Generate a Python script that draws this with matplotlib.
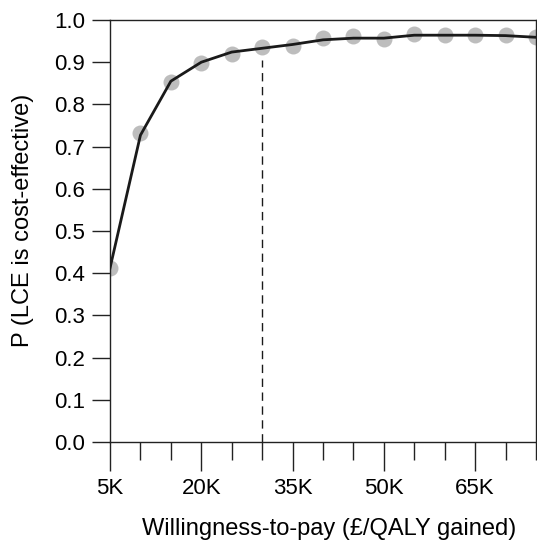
import matplotlib
matplotlib.use("Agg")
import matplotlib.pyplot as plt
import numpy as np
from matplotlib.ticker import MultipleLocator, FixedLocator

plt.rcParams['font.family'] = ['Liberation Sans', 'DejaVu Sans']

wtp = [5000, 10000, 15000, 20000, 25000, 30000, 35000, 40000, 45000, 50000,
       55000, 60000, 65000, 70000, 75000]
p_points = [0.412, 0.732, 0.853, 0.898, 0.919, 0.937, 0.938, 0.957, 0.962, 0.954,
            0.966, 0.965, 0.965, 0.964, 0.959]
p_line = [0.412, 0.727, 0.855, 0.900, 0.924, 0.933, 0.942, 0.953, 0.957, 0.957,
          0.964, 0.964, 0.964, 0.963, 0.959]
threshold = 30000
threshold_top = 0.905
xtick_vals = [5000, 20000, 35000, 50000, 65000]
xtick_labels = ["5K", "20K", "35K", "50K", "65K"]

fig = plt.figure(figsize=(5.37, 5.45), dpi=100)
ax = fig.add_axes([110/537, 1 - 442/545, 426/537, 422/545])

ax.plot(wtp, p_points, 'o', color='#bdbdbd', markersize=11.5, markeredgewidth=0, zorder=2)
ax.plot(wtp, p_line, '-', color='#1a1a1a', lw=2.0, zorder=3)
ax.vlines(threshold, 0, threshold_top, colors='#1a1a1a', linestyles=(0, (6, 4)), lw=1.0, zorder=1)

ax.set_xlim(5000, 75000)
ax.set_ylim(0, 1.0)
ax.set_yticks(np.arange(0, 1.01, 0.1))
ax.set_yticklabels([f"{v:.1f}" for v in np.arange(0, 1.01, 0.1)])
ax.xaxis.set_major_locator(FixedLocator(xtick_vals))
ax.set_xticklabels(xtick_labels)
ax.xaxis.set_minor_locator(MultipleLocator(5000))

ax.tick_params(axis='y', length=13, width=1.0, labelsize=16, pad=5, color='#222222')
ax.tick_params(axis='x', which='major', length=21, width=1.0, labelsize=16, pad=5, color='#222222')
ax.tick_params(axis='x', which='minor', length=13, width=1.0, color='#222222')

for s in ax.spines.values():
    s.set_linewidth(1.0)
    s.set_color('#222222')

ax.set_xlabel("Willingness-to-pay (£/QALY gained)", fontsize=17)
ax.set_ylabel("P (LCE is cost-effective)", fontsize=17)
ax.xaxis.set_label_coords(0.514, -0.18)
ax.yaxis.set_label_coords(-0.178, 0.524)

fig.savefig("out.png", dpi=100)
